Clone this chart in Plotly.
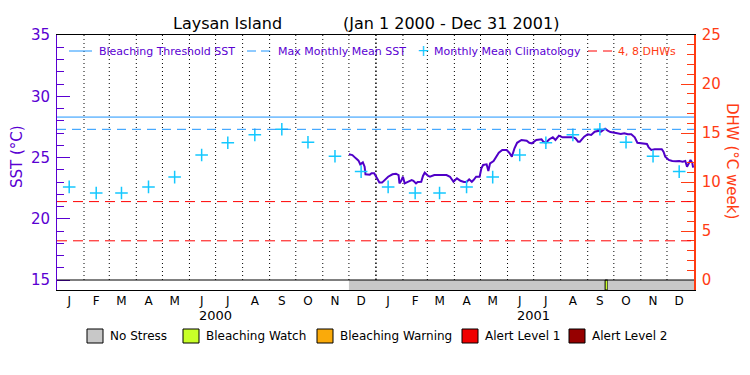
import plotly.graph_objects as go
import pandas as pd

# ---------------- data ----------------
title_site = "Laysan Island"
title_period = "(Jan 1 2000 - Dec 31 2001)"
years = [2000, 2001]
month_letters = ["J", "F", "M", "A", "M", "J", "J", "A", "S", "O", "N", "D"]
clim_values = [22.6, 22.1, 22.1, 22.6, 23.4, 25.2, 26.2, 26.85, 27.3, 26.25, 25.1, 23.85]
mmm_sst = 27.3
threshold_sst = 28.3
dhw_levels = [4, 8]

sst_series = [
    ("2000-12-01", 25.26), ("2000-12-05", 25.20), ("2000-12-09", 24.93), ("2000-12-12", 24.74),
    ("2000-12-14", 24.44), ("2000-12-17", 24.60), ("2000-12-19", 24.25), ("2000-12-20", 23.63),
    ("2000-12-25", 23.60), ("2000-12-27", 23.71), ("2000-12-30", 23.71), ("2001-01-02", 23.30),
    ("2001-01-05", 22.95), ("2001-01-08", 22.95), ("2001-01-11", 23.16), ("2001-01-15", 23.43),
    ("2001-01-20", 23.63), ("2001-01-24", 23.68), ("2001-01-27", 23.57), ("2001-01-28", 22.89),
    ("2001-01-30", 23.10), ("2001-02-01", 23.43), ("2001-02-03", 22.89), ("2001-02-07", 23.02),
    ("2001-02-11", 23.16), ("2001-02-13", 23.10), ("2001-02-16", 22.89), ("2001-02-18", 23.00),
    ("2001-02-22", 23.02), ("2001-02-24", 23.49), ("2001-02-26", 23.76), ("2001-03-02", 23.49),
    ("2001-03-04", 23.43), ("2001-03-09", 23.57), ("2001-03-23", 23.57), ("2001-03-27", 23.43),
    ("2001-03-31", 23.02), ("2001-04-04", 23.30), ("2001-04-08", 23.10), ("2001-04-12", 23.00),
    ("2001-04-15", 23.00), ("2001-04-18", 23.22), ("2001-04-21", 23.02), ("2001-04-23", 23.16),
    ("2001-04-26", 23.43), ("2001-04-30", 23.43), ("2001-05-02", 24.12), ("2001-05-04", 24.39),
    ("2001-05-08", 24.44), ("2001-05-10", 23.90), ("2001-05-12", 24.52), ("2001-05-16", 24.71),
    ("2001-05-19", 25.07), ("2001-05-22", 25.39), ("2001-05-26", 25.61), ("2001-05-31", 25.61),
    ("2001-06-03", 25.39), ("2001-06-06", 25.07), ("2001-06-09", 25.75), ("2001-06-12", 26.20),
    ("2001-06-17", 26.43), ("2001-06-23", 26.37), ("2001-06-26", 26.20), ("2001-06-29", 26.15),
    ("2001-07-04", 26.43), ("2001-07-10", 26.49), ("2001-07-12", 26.29), ("2001-07-15", 26.20),
    ("2001-07-19", 26.49), ("2001-07-23", 26.65), ("2001-07-26", 26.43), ("2001-07-30", 26.78),
    ("2001-08-03", 26.65), ("2001-08-15", 26.65), ("2001-08-18", 26.57), ("2001-08-21", 26.29),
    ("2001-08-23", 26.29), ("2001-08-28", 26.70), ("2001-09-01", 26.90), ("2001-09-05", 26.84),
    ("2001-09-09", 27.10), ("2001-09-14", 27.19), ("2001-09-16", 27.10), ("2001-09-19", 27.24),
    ("2001-09-21", 27.35), ("2001-09-24", 27.19), ("2001-09-27", 27.08), ("2001-10-02", 27.02),
    ("2001-10-05", 26.98), ("2001-10-09", 26.92), ("2001-10-13", 26.98), ("2001-10-17", 26.90),
    ("2001-10-21", 26.90), ("2001-10-25", 26.65), ("2001-10-28", 26.20), ("2001-11-03", 26.16),
    ("2001-11-08", 26.10), ("2001-11-10", 25.83), ("2001-11-13", 25.61), ("2001-11-17", 25.67),
    ("2001-11-25", 25.67), ("2001-11-27", 25.47), ("2001-11-29", 25.07), ("2001-12-03", 24.80),
    ("2001-12-07", 24.71), ("2001-12-11", 24.69), ("2001-12-15", 24.71), ("2001-12-19", 24.65),
    ("2001-12-22", 24.71), ("2001-12-24", 24.25), ("2001-12-26", 24.52), ("2001-12-28", 24.80),
    ("2001-12-30", 24.57), ("2001-12-31", 24.17),
]
sst_dates = [d for d, _ in sst_series]
sst_values = [v for _, v in sst_series]

alert_periods = [
    ("2000-12-01", "2001-09-21", "No Stress"),
    ("2001-09-21", "2001-09-24", "Bleaching Watch"),
    ("2001-09-24", "2002-01-01", "No Stress"),
]
alert_names = ["No Stress", "Bleaching Watch", "Bleaching Warning", "Alert Level 1", "Alert Level 2"]
alert_colors = {
    "No Stress": "#C8C8C8",
    "Bleaching Watch": "#C8FF28",
    "Bleaching Warning": "#FAAA0A",
    "Alert Level 1": "#F00000",
    "Alert Level 2": "#960000",
}

# ---------------- styles ----------------
FONT = "DejaVu Sans"
PURPLE = "#5A00D2"
SST_LINE = "#5000C8"
ORANGE = "#FF3C14"
BLUE = "#1E96FF"
CYAN = "#14C8FF"
RED = "#FF0000"

W, H = 750, 375
L, R, T, B = 57, 694, 35, 290
sst_range = [15 - 10 / 12.25, 35]
dhw_range = [-10 / 9.8, 25]


def px(x):
    return (x - L) / (R - L)


def py(y):
    return (B - y) / (B - T)


clim_dates = [f"{y}-{m:02d}-15" for y in years for m in range(1, 13)]
clim_y = [clim_values[m - 1] for y in years for m in range(1, 13)]
tick_dates = clim_dates
tick_text = month_letters * len(years)

fig = go.Figure()

fig.add_trace(go.Scatter(
    x=sst_dates, y=sst_values, mode="lines",
    line=dict(color=SST_LINE, width=2), showlegend=False, yaxis="y"))

fig.add_trace(go.Scatter(
    x=clim_dates, y=clim_y, mode="markers",
    marker=dict(symbol="cross-thin", size=9, line=dict(color=CYAN, width=1.5)),
    showlegend=False, yaxis="y"))

# dummy trace to activate the right axis
fig.add_trace(go.Scatter(x=[None], y=[None], yaxis="y2", showlegend=False))

shapes = []
# month boundary dotted lines
for d in pd.date_range(f"{years[0]}-02-01", f"{years[-1]}-12-01", freq="MS"):
    is_year = d.month == 1
    shapes.append(dict(type="line", xref="x", yref="y", x0=d, x1=d, y0=15, y1=35,
                       line=dict(color="black", width=1.5 if is_year else 1,
                                 dash="1px,3px" if not is_year else "1.5px,2.5px"),
                       layer="below"))
# reference lines
shapes.append(dict(type="line", xref="paper", yref="y", x0=0, x1=1, y0=threshold_sst, y1=threshold_sst,
                   line=dict(color=BLUE, width=1)))
shapes.append(dict(type="line", xref="paper", yref="y", x0=0, x1=1, y0=mmm_sst, y1=mmm_sst,
                   line=dict(color=BLUE, width=1, dash="9px,6px")))
for lv in dhw_levels:
    shapes.append(dict(type="line", xref="paper", yref="y2", x0=0, x1=1, y0=lv, y1=lv,
                       line=dict(color=RED, width=1, dash="10px,6px")))
# alert bar
for s, e, name in alert_periods:
    shapes.append(dict(type="rect", xref="x", yref="y", x0=s, x1=e, y0=sst_range[0], y1=15,
                       fillcolor=alert_colors[name],
                       line=dict(color="black", width=1 if name != "No Stress" else 0)))
shapes.append(dict(type="line", xref="paper", yref="y", x0=0, x1=1, y0=15, y1=15,
                   line=dict(color="black", width=1)))

annotations = []
# titles
annotations.append(dict(text=title_site, xref="paper", yref="paper", x=px(227.5), y=py(24),
                        showarrow=False, font=dict(family=FONT, size=16, color="black"),
                        xanchor="center", yanchor="middle"))
annotations.append(dict(text=title_period, xref="paper", yref="paper", x=px(450.5), y=py(24),
                        showarrow=False, font=dict(family=FONT, size=16, color="black"),
                        xanchor="center", yanchor="middle"))
# axis titles
annotations.append(dict(text="SST (°C)", xref="paper", yref="paper", x=px(17), y=py(157),
                        showarrow=False, textangle=-90, font=dict(family=FONT, size=15, color=PURPLE),
                        xanchor="center", yanchor="middle"))
annotations.append(dict(text="DHW (°C week)", xref="paper", yref="paper", x=px(732), y=py(161),
                        showarrow=False, textangle=90, font=dict(family=FONT, size=15, color=ORANGE),
                        xanchor="center", yanchor="middle"))
# year labels
for y in years:
    annotations.append(dict(text=str(y), xref="x", yref="paper", x=f"{y}-07-01", y=py(315),
                            showarrow=False, font=dict(family=FONT, size=13, color="black"),
                            xanchor="center", yanchor="middle"))

# top legend
leg_y = 51
shapes.append(dict(type="line", xref="paper", yref="paper", x0=px(69), x1=px(92), y0=py(leg_y), y1=py(leg_y),
                   line=dict(color=BLUE, width=1)))
shapes.append(dict(type="line", xref="paper", yref="paper", x0=px(247), x1=px(270), y0=py(leg_y), y1=py(leg_y),
                   line=dict(color=BLUE, width=1, dash="9px,5px")))
shapes.append(dict(type="line", xref="paper", yref="paper", x0=px(588), x1=px(613), y0=py(leg_y), y1=py(leg_y),
                   line=dict(color=RED, width=1, dash="9px,6px")))
annotations.append(dict(text="+", xref="paper", yref="paper", x=px(423), y=py(leg_y),
                        showarrow=False, font=dict(family=FONT, size=15, color=CYAN),
                        xanchor="center", yanchor="middle"))
for txt, x0, col in [("Bleaching Threshold SST", 97, PURPLE), ("Max Monthly Mean SST", 276, PURPLE),
                     ("Monthly Mean Climatology", 432, PURPLE), ("4, 8 DHWs", 616, ORANGE)]:
    annotations.append(dict(text=txt, xref="paper", yref="paper", x=px(x0), y=py(leg_y),
                            showarrow=False, font=dict(family=FONT, size=11, color=col),
                            xanchor="left", yanchor="middle"))

# bottom alert legend
box_x = [87, 183, 317, 462, 569]
for name, bx in zip(alert_names, box_x):
    shapes.append(dict(type="rect", xref="paper", yref="paper", x0=px(bx), x1=px(bx + 16),
                       y0=py(343), y1=py(329), fillcolor=alert_colors[name],
                       line=dict(color="black", width=1)))
    annotations.append(dict(text=name, xref="paper", yref="paper", x=px(bx + 21), y=py(336),
                            showarrow=False, font=dict(family=FONT, size=12, color="black"),
                            xanchor="left", yanchor="middle"))

fig.update_layout(
    width=W, height=H,
    margin=dict(l=L, r=W - R, t=T, b=H - B, pad=0),
    paper_bgcolor="white", plot_bgcolor="white",
    showlegend=False,
    font=dict(family=FONT),
    shapes=shapes, annotations=annotations,
    xaxis=dict(type="date", range=["2000-01-01", "2002-01-01"],
               tickmode="array", tickvals=tick_dates, ticktext=tick_text,
               ticks="", showgrid=False, zeroline=False,
               showline=True, linecolor="black", linewidth=1, mirror=True,
               tickfont=dict(family=FONT, size=12, color="black"), tickangle=0),
    yaxis=dict(range=sst_range, tickmode="array", tickvals=[15, 20, 25, 30, 35],
               ticks="inside", ticklen=13, tickwidth=1, tickcolor=PURPLE,
               minor=dict(ticks="inside", ticklen=7, tickwidth=1, tickcolor=PURPLE,
                          tickmode="array", tickvals=list(range(15, 36))),
               showgrid=False, zeroline=False, showline=True, linecolor=PURPLE, linewidth=1,
               tickfont=dict(family=FONT, size=15, color=PURPLE), ticklabelstandoff=3),
    yaxis2=dict(range=dhw_range, overlaying="y", side="right", tickmode="array",
                tickvals=[0, 5, 10, 15, 20, 25],
                ticks="inside", ticklen=13, tickwidth=1, tickcolor=ORANGE,
                minor=dict(ticks="inside", ticklen=7, tickwidth=1, tickcolor=ORANGE,
                           tickmode="array", tickvals=list(range(0, 26))),
                showgrid=False, zeroline=False, showline=True, linecolor=ORANGE, linewidth=1.5,
                tickfont=dict(family=FONT, size=15, color=ORANGE), ticklabelstandoff=3),
)

fig.write_html("out.html", config={"displayModeBar": False},
               post_script="document.body.style.margin='0';document.body.style.overflow='hidden';")
